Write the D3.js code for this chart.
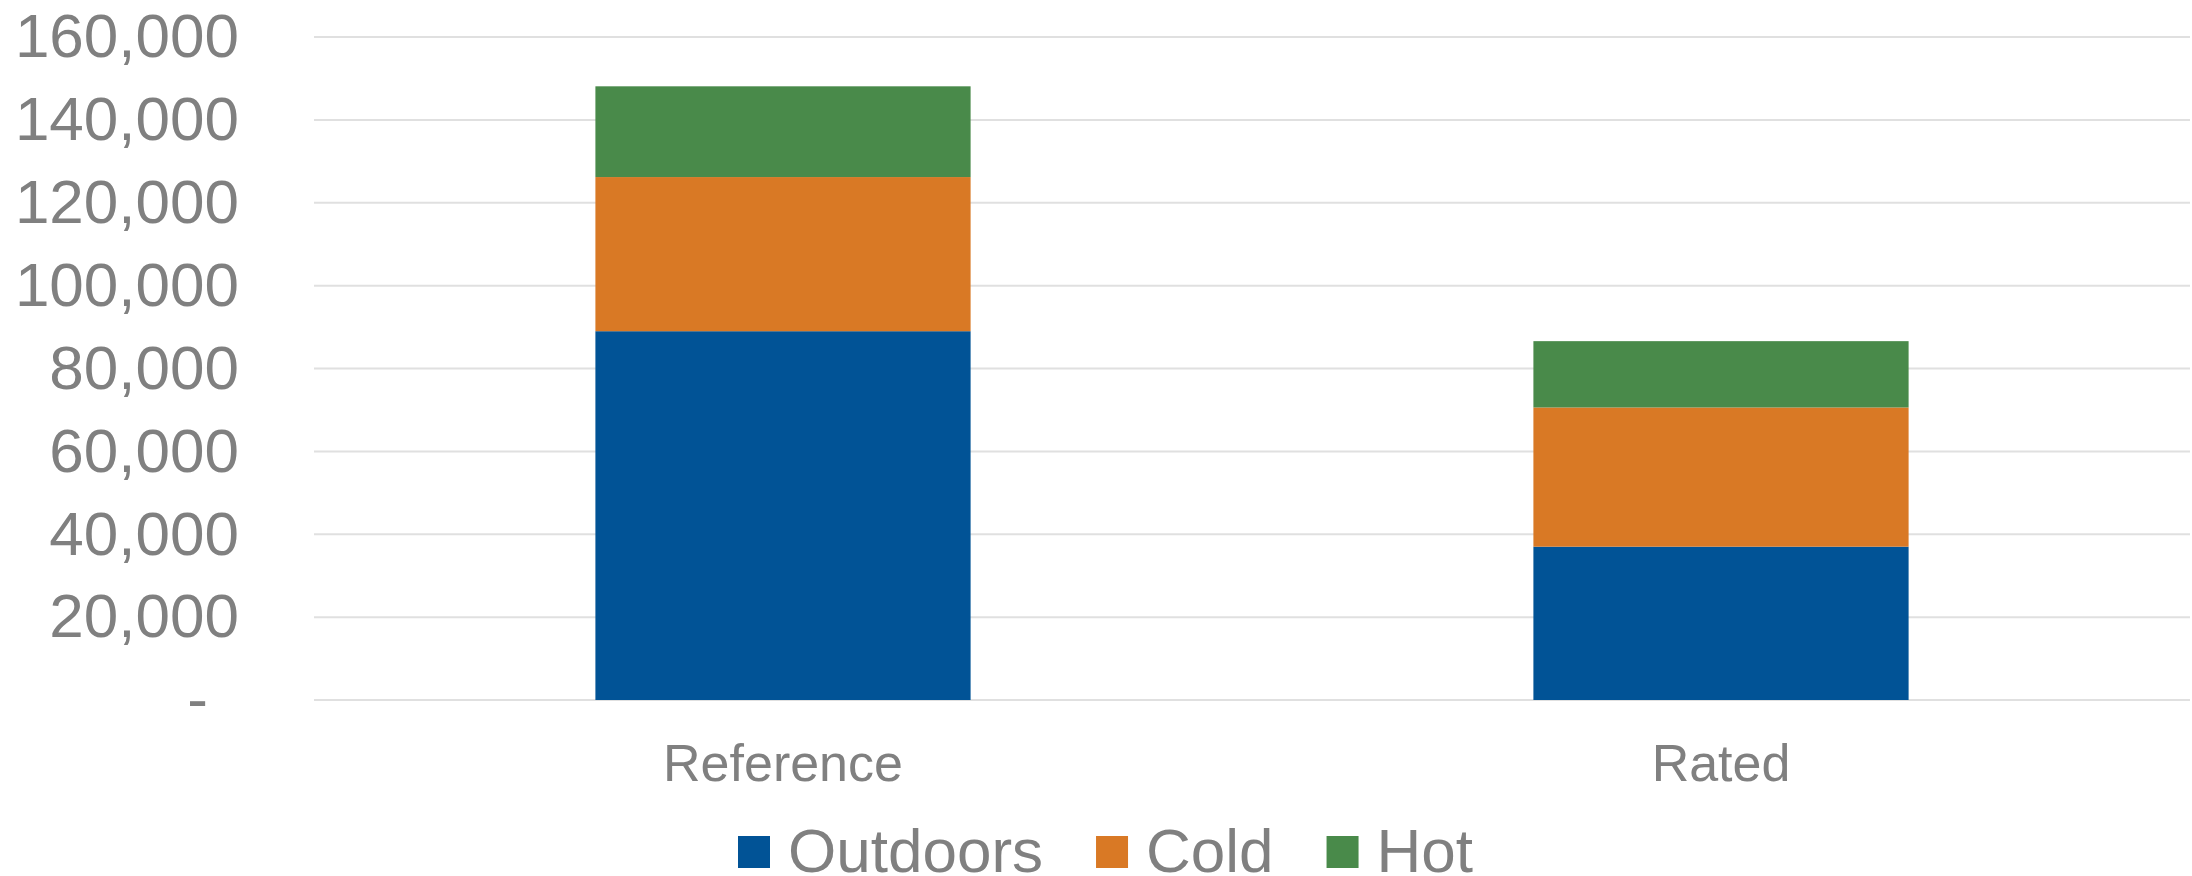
<!DOCTYPE html>
<html>
<head>
<meta charset="utf-8">
<script src="https://cdn.jsdelivr.net/npm/d3@7"></script>
<style>
  html, body { margin: 0; padding: 0; background: #ffffff; }
  svg { display: block; font-family: "Liberation Sans", Arial, sans-serif; }
</style>
</head>
<body>
<svg id="chart" width="2192" height="876"></svg>
<script>
const categories = ["Reference", "Rated"];
const seriesNames = ["Outdoors", "Cold", "Hot"];
const outdoors = [89000, 37000];
const cold = [37200, 33600];
const hot = [21900, 16000];
const yTicks = [0, 20000, 40000, 60000, 80000, 100000, 120000, 140000, 160000];
const colors = ["#015396", "#D97925", "#498A4A"];

(function () {
  const rows = categories.map((c, i) => ({ category: c, Outdoors: outdoors[i], Cold: cold[i], Hot: hot[i] }));
  const stacked = d3.stack().keys(seriesNames)(rows);

  const svg = d3.select("#chart");
  const mLeft = 314, mRight = 2190, mTop = 37, mBottom = 700;
  const textColor = "#808080";

  const x = d3.scaleBand().domain(categories).range([mLeft, mRight]).paddingInner(0.6).paddingOuter(0.3);
  const y = d3.scaleLinear().domain([0, 160000]).range([mBottom, mTop]);

  // gridlines
  svg.append("g")
    .selectAll("line")
    .data(yTicks)
    .join("line")
    .attr("x1", mLeft).attr("x2", mRight)
    .attr("y1", d => y(d)).attr("y2", d => y(d))
    .attr("stroke", "#e0e0e0").attr("stroke-width", 2);

  // y axis labels
  const yAxis = d3.axisLeft(y).tickValues(yTicks).tickSize(0).tickPadding(0)
    .tickFormat(d => d === 0 ? "-" : d3.format(",")(d));
  const gy = svg.append("g").attr("transform", "translate(239,0)").call(yAxis);
  gy.select(".domain").remove();
  gy.selectAll("text")
    .attr("fill", textColor)
    .attr("font-size", 62)
    .attr("font-family", "'Liberation Sans', Arial, sans-serif")
    .attr("dy", "0.32em")
    .attr("dx", d => d === 0 ? -31 : 0);

  // bars
  svg.append("g")
    .selectAll("g")
    .data(stacked)
    .join("g")
    .attr("fill", (d, i) => colors[i])
    .selectAll("rect")
    .data(d => d)
    .join("rect")
    .attr("x", d => x(d.data.category))
    .attr("width", x.bandwidth())
    .attr("y", d => y(d[1]))
    .attr("height", d => y(d[0]) - y(d[1]));

  // x axis labels
  const xAxis = d3.axisBottom(x).tickSize(0).tickPadding(0);
  const gx = svg.append("g").attr("transform", `translate(0,${mBottom})`).call(xAxis);
  gx.select(".domain").remove();
  gx.selectAll("text")
    .attr("fill", textColor)
    .attr("font-size", 52)
    .attr("font-family", "'Liberation Sans', Arial, sans-serif")
    .attr("dy", null)
    .attr("y", 81);

  // legend
  const legend = svg.append("g").attr("transform", "translate(738,0)");
  let cx = 0;
  seriesNames.forEach((name, i) => {
    legend.append("rect")
      .attr("x", cx).attr("y", 836).attr("width", 32).attr("height", 32)
      .attr("fill", colors[i]);
    const t = legend.append("text")
      .attr("x", cx + 50).attr("y", 872)
      .attr("fill", textColor)
      .attr("font-size", 62)
      .text(name);
    const w = t.node().getComputedTextLength();
    cx += 50 + w + 53;
  });
})();
</script>
</body>
</html>
